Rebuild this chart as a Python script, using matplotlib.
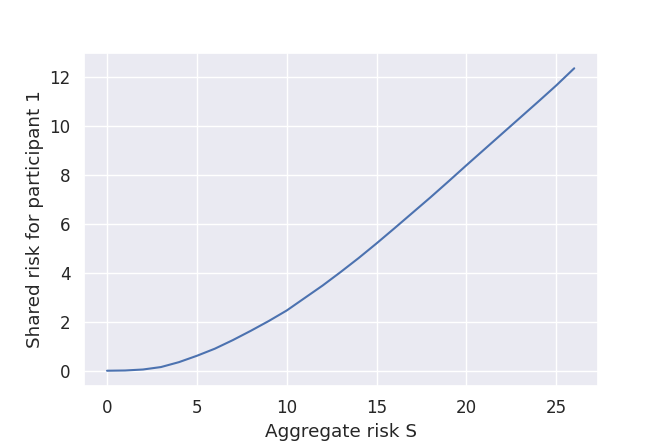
import matplotlib
matplotlib.use("Agg")
from matplotlib import pyplot as plt
import seaborn as sns

# Riesgo agregado S y la parte que asume el participante 1
S = list(range(0, 27))
riesgo_1 = [0.0, 0.01, 0.05, 0.15, 0.35, 0.61, 0.9, 1.25, 1.63, 2.03, 2.46,
            2.97, 3.48, 4.03, 4.6, 5.2, 5.82, 6.45, 7.08, 7.73, 8.39,
            9.04, 9.69, 10.34, 10.99, 11.65, 12.35]

sns.set_theme(font_scale=1.1)

fig = plt.figure(figsize=(6.64, 4.43), dpi=100)
ax = fig.add_subplot(111)
fig.subplots_adjust(left=0.126, right=0.9, bottom=0.129, top=0.88)
ax.plot(S, riesgo_1)
ax.set_xlabel("Aggregate risk S")
ax.set_ylabel("Shared risk for participant 1")

fig.savefig("out.png", dpi=100)
